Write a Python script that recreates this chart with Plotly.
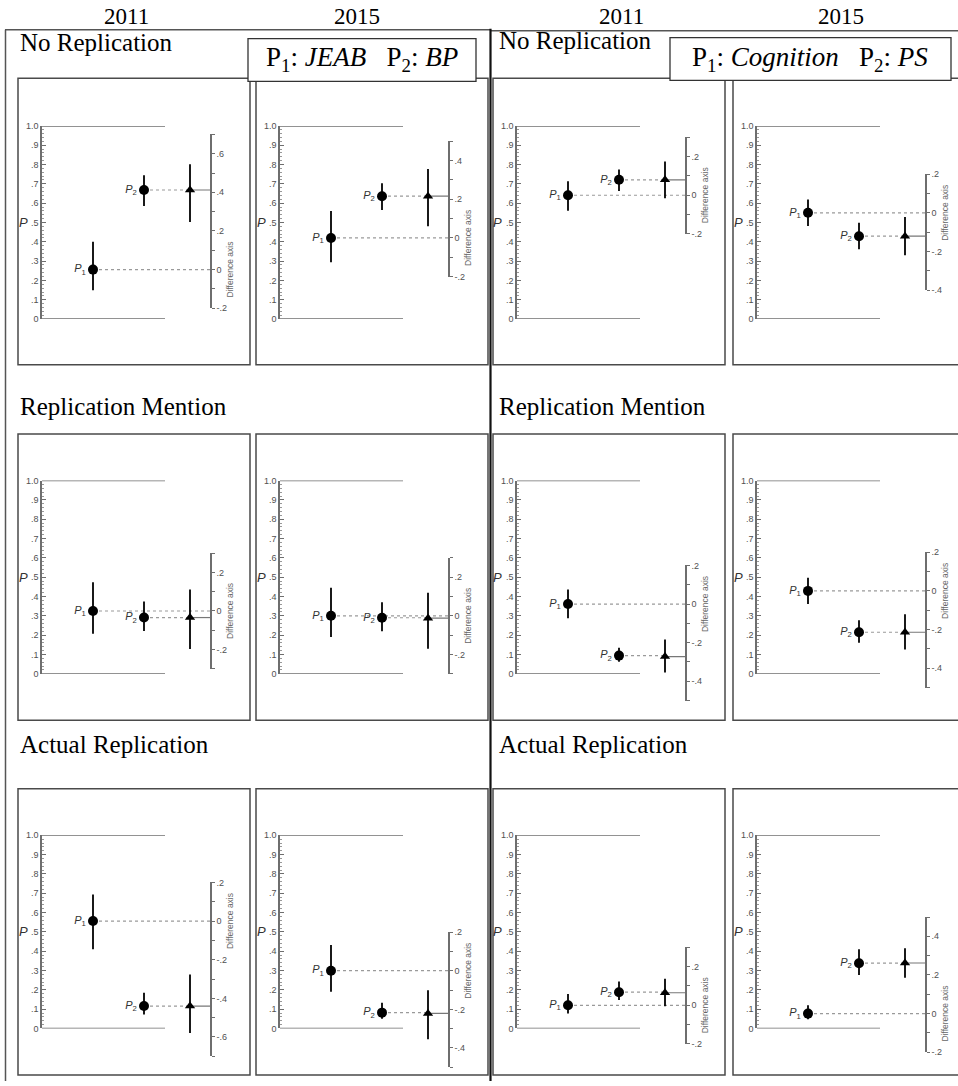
import numpy as np
import plotly.graph_objects as go

# ---------------- data ----------------
row_labels = ["No Replication", "Replication Mention", "Actual Replication"]
year_labels = ["2011", "2015", "2011", "2015"]
box_labels = ["P<sub>1</sub>:&nbsp;<i>JEAB</i>&nbsp;&nbsp;&nbsp;P<sub>2</sub>:&nbsp;<i>BP</i>",
              "P<sub>1</sub>:&nbsp;<i>Cognition</i>&nbsp;&nbsp;&nbsp;P<sub>2</sub>:&nbsp;<i>PS</i>"]
point_labels = ["<i>P</i><sub>1</sub>", "<i>P</i><sub>2</sub>"]

# rows: No Replication / Replication Mention / Actual Replication
# cols: JEAB-BP 2011, JEAB-BP 2015, Cognition-PS 2011, Cognition-PS 2015
p1 = [[0.256, 0.420, 0.641, 0.550],
      [0.325, 0.300, 0.361, 0.429],
      [0.556, 0.299, 0.120, 0.077]]
p1_lo = [[0.149, 0.294, 0.561, 0.482],
         [0.207, 0.190, 0.287, 0.361],
         [0.410, 0.190, 0.077, 0.048]]
p1_hi = [[0.400, 0.559, 0.713, 0.619],
         [0.474, 0.445, 0.436, 0.497],
         [0.694, 0.432, 0.179, 0.120]]
p2 = [[0.668, 0.636, 0.721, 0.429],
      [0.291, 0.290, 0.094, 0.215],
      [0.116, 0.082, 0.188, 0.338]]
p2_lo = [[0.585, 0.564, 0.663, 0.362],
         [0.221, 0.220, 0.062, 0.161],
         [0.072, 0.051, 0.147, 0.277]]
p2_hi = [[0.745, 0.703, 0.774, 0.499],
         [0.374, 0.370, 0.135, 0.277],
         [0.185, 0.133, 0.243, 0.410]]
diff = [[0.412, 0.216, 0.080, -0.121],
        [-0.034, -0.012, -0.272, -0.214],
        [-0.440, -0.221, 0.065, 0.262]]
diff_lo = [[0.247, 0.060, -0.015, -0.219],
           [-0.197, -0.170, -0.354, -0.303],
           [-0.579, -0.355, -0.005, 0.185]]
diff_hi = [[0.545, 0.357, 0.174, -0.022],
           [0.111, 0.120, -0.183, -0.121],
           [-0.277, -0.101, 0.138, 0.338]]
diff_axis_min = [[-0.2, -0.2, -0.2, -0.4],
                 [-0.3, -0.3, -0.5, -0.5],
                 [-0.7, -0.5, -0.2, -0.2]]
diff_axis_max = [[0.7, 0.5, 0.3, 0.2],
                 [0.3, 0.3, 0.2, 0.2],
                 [0.2, 0.2, 0.3, 0.5]]
p_tick_vals = [0, .1, .2, .3, .4, .5, .6, .7, .8, .9, 1.0]
p_tick_text = ["0", ".1", ".2", ".3", ".4", ".5", ".6", ".7", ".8", ".9", "1.0"]

# ---------------- layout geometry (pixels) ----------------
W, H = 958, 1086
def px(x): return x / W
def py(y): return 1 - y / H

row_top = [74, 433, 791]
row_bot = [363, 722, 1080]
p_one_px = [122, 480, 838]
p_zero_px = [317, 675, 1033]
col_left = [18, 256, 493, 733]
PANEL_W = 232
P_OFF = 24
D_OFF = 193
X_SPAN = 178
X_P1, X_P2, X_TRI, X_DIFF, X_FRAME = 51, 102, 148, 169, 123

AX_COL = "#6e6e6e"
TXT_COL = "#505050"
SANS = "Liberation Sans, Arial, sans-serif"
SERIF = "Liberation Serif, Times New Roman, serif"

def fmt(v):
    if abs(v) < 1e-9:
        return "0"
    return f"{v:.1f}".replace("0.", ".", 1)

fig = go.Figure()
layout = dict(width=W, height=H, margin=dict(l=0, r=0, t=0, b=0),
              paper_bgcolor="white", plot_bgcolor="rgba(0,0,0,0)",
              showlegend=False)
shapes = []
annotations = []

for r in range(3):
    for c in range(4):
        k = r * 4 + c
        xn = k + 1
        yp = 2 * k + 1
        yd = 2 * k + 2
        xs = "x" if xn == 1 else f"x{xn}"
        yps = "y" if yp == 1 else f"y{yp}"
        yds = f"y{yd}"
        left = col_left[c]
        y0p, y1p = py(p_zero_px[r]), py(p_one_px[r])
        s = y1p - y0p
        dmn, dmx = diff_axis_min[r][c], diff_axis_max[r][c]
        a, b, dv = p1[r][c], p2[r][c], diff[r][c]

        layout["xaxis" if xn == 1 else f"xaxis{xn}"] = dict(
            domain=[px(left + P_OFF), px(left + P_OFF + X_SPAN)],
            range=[0, X_SPAN], visible=False, anchor=yps, fixedrange=True)
        layout["yaxis" if yp == 1 else f"yaxis{yp}"] = dict(
            domain=[y0p, y1p], range=[0, 1], anchor=xs,
            showline=True, linecolor=AX_COL, linewidth=1.5,
            showgrid=False, zeroline=False,
            tickmode="array", tickvals=p_tick_vals, ticktext=p_tick_text,
            ticks="inside", ticklen=4, tickcolor=AX_COL, tickwidth=1,
            minor=dict(tickmode="array",
                       tickvals=[round(v, 2) for v in np.arange(0, 1.001, 0.02)],
                       ticks="inside", ticklen=2, tickcolor="#999999"),
            tickfont=dict(family=SANS, size=9, color=TXT_COL), fixedrange=True)
        dticks = [round(v, 2) for v in np.arange(dmn, dmx + 1e-9, 0.1)]
        layout[f"yaxis{yd}"] = dict(
            domain=[y0p + (a + dmn) * s, y0p + (a + dmx) * s],
            range=[dmn, dmx], anchor="free", position=px(left + D_OFF),
            side="right", showline=True, linecolor=AX_COL, linewidth=1.5,
            showgrid=False, zeroline=False,
            tickmode="array", tickvals=dticks,
            ticktext=[fmt(v) if round(v * 10) % 2 == 0 else "" for v in dticks],
            ticks="outside", ticklen=3, tickcolor=AX_COL,
            tickfont=dict(family=SANS, size=9, color=TXT_COL), fixedrange=True)

        # connector lines
        fig.add_trace(go.Scatter(x=[X_P1, X_DIFF], y=[a, a], mode="lines",
                                 line=dict(color="#9a9a9a", width=1.2, dash="dot"),
                                 xaxis=xs, yaxis=yps, hoverinfo="skip"))
        fig.add_trace(go.Scatter(x=[X_P2, X_TRI], y=[b, b], mode="lines",
                                 line=dict(color="#9a9a9a", width=1.2, dash="dot"),
                                 xaxis=xs, yaxis=yps, hoverinfo="skip"))
        fig.add_trace(go.Scatter(x=[X_TRI, X_DIFF], y=[dv, dv], mode="lines",
                                 line=dict(color="#777777", width=1.2),
                                 xaxis=xs, yaxis=yds, hoverinfo="skip"))
        # P1, P2 points
        fig.add_trace(go.Scatter(
            x=[X_P1, X_P2], y=[a, b], mode="markers+text",
            text=point_labels, textposition="middle left",
            textfont=dict(family=SANS, size=11, color="#333333"),
            marker=dict(symbol="circle", size=10, color="black"),
            error_y=dict(type="data", symmetric=False,
                         array=[p1_hi[r][c] - a, p2_hi[r][c] - b],
                         arrayminus=[a - p1_lo[r][c], b - p2_lo[r][c]],
                         width=0, thickness=1.8, color="black"),
            cliponaxis=False, xaxis=xs, yaxis=yps))
        # difference triangle
        fig.add_trace(go.Scatter(
            x=[X_TRI], y=[dv], mode="markers",
            marker=dict(symbol="triangle-up", size=9, color="black"),
            error_y=dict(type="data", symmetric=False,
                         array=[diff_hi[r][c] - dv], arrayminus=[dv - diff_lo[r][c]],
                         width=0, thickness=1.8, color="black"),
            cliponaxis=False, xaxis=xs, yaxis=yds))

        # frame lines at P = 0 and P = 1
        for yy in (0, 1):
            shapes.append(dict(type="line", xref=xs, yref=yps, x0=0, x1=X_FRAME,
                               y0=yy, y1=yy, line=dict(color=AX_COL, width=1.5)))
        # panel border
        shapes.append(dict(type="rect", xref="paper", yref="paper",
                           x0=px(left), x1=px(left + PANEL_W),
                           y0=py(row_bot[r]), y1=py(row_top[r]),
                           line=dict(color="#4a4a4a", width=1.5), layer="below"))
        # axis titles
        annotations.append(dict(text="<i>P</i>", xref="paper", yref=yps,
                                x=px(left + 5), y=0.5, showarrow=False,
                                xanchor="center", yanchor="middle",
                                font=dict(family=SANS, size=13, color="#333333")))
        annotations.append(dict(text="Difference axis", xref="paper", yref=yds,
                                x=px(left + D_OFF + 19), y=0, showarrow=False,
                                textangle=-90, xanchor="center", yanchor="middle",
                                font=dict(family=SANS, size=8.5, color="#666666")))

# outer frame
shapes += [
    dict(type="line", xref="paper", yref="paper", x0=px(5.5), x1=px(5.5),
         y0=py(25), y1=py(1086), line=dict(color="#555555", width=1.5)),
    dict(type="line", xref="paper", yref="paper", x0=px(5), x1=px(490),
         y0=py(25), y1=py(25), line=dict(color="#555555", width=1.5)),
    dict(type="line", xref="paper", yref="paper", x0=px(490), x1=px(958),
         y0=py(26), y1=py(26), line=dict(color="#555555", width=1.5)),
    dict(type="line", xref="paper", yref="paper", x0=px(490.5), x1=px(490.5),
         y0=py(24), y1=py(1086), line=dict(color="#111111", width=2.2)),
]
# legend boxes
shapes += [
    dict(type="rect", xref="paper", yref="paper", x0=px(248), x1=px(476),
         y0=py(77), y1=py(34), fillcolor="white", line=dict(color="#333333", width=1.3)),
    dict(type="rect", xref="paper", yref="paper", x0=px(670), x1=px(951),
         y0=py(76), y1=py(33), fillcolor="white", line=dict(color="#333333", width=1.3)),
]
annotations.append(dict(text=box_labels[0], xref="paper", yref="paper",
                        x=px(362), y=py(55), showarrow=False,
                        xanchor="center", yanchor="middle",
                        font=dict(family=SERIF, size=27, color="black")))
annotations.append(dict(text=box_labels[1], xref="paper", yref="paper",
                        x=px(810), y=py(54), showarrow=False,
                        xanchor="center", yanchor="middle",
                        font=dict(family=SERIF, size=27, color="black")))
# year headers
for xc, lab in zip([126, 357, 621, 841], year_labels):
    annotations.append(dict(text=lab, xref="paper", yref="paper",
                            x=px(xc), y=py(12), showarrow=False,
                            xanchor="center", yanchor="middle",
                            font=dict(family=SERIF, size=23, color="black")))
# row labels
row_label_y = [[38, 36], [405, 405], [746, 746]]
for r in range(3):
    for xl, yc in zip([18, 497], row_label_y[r]):
        annotations.append(dict(text=row_labels[r], xref="paper", yref="paper",
                                x=px(xl), y=py(yc), showarrow=False,
                                xanchor="left", yanchor="middle",
                                font=dict(family=SERIF, size=25, color="black")))

layout["shapes"] = shapes
layout["annotations"] = annotations
fig.update_layout(**layout)
fig.write_html("out.html")
